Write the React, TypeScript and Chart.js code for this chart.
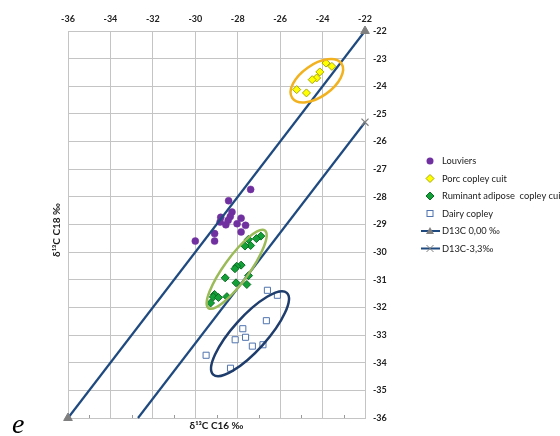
import React, { useEffect, useRef } from "react";
import { Chart, registerables } from "chart.js";

Chart.register(...registerables);

// ---- Data ----
const louviersX = [-27.39, -28.43, -28.27, -28.35, -28.8, -27.84, -28.83, -28.45, -28.56, -28.03, -27.63, -27.84, -29.09, -30.0, -29.09];
const louviersY = [-27.73, -28.14, -28.55, -28.71, -28.74, -28.77, -28.91, -28.85, -29.01, -28.97, -29.03, -29.27, -29.33, -29.6, -29.6];

const porcX = [-23.84, -23.56, -24.13, -24.28, -24.49, -25.22, -24.76];
const porcY = [-23.16, -23.28, -23.48, -23.7, -23.76, -24.12, -24.24];

const ruminantX = [-26.91, -27.12, -27.5, -27.39, -27.66, -27.84, -28.05, -28.13, -28.59, -27.49, -28.08, -27.57, -29.09, -29.15, -28.91, -28.51, -29.28];
const ruminantY = [-29.42, -29.51, -29.54, -29.76, -29.78, -30.47, -30.51, -30.6, -30.93, -30.85, -31.11, -31.17, -31.53, -31.62, -31.64, -31.61, -31.84];

const dairyX = [-26.6, -26.13, -26.65, -27.76, -27.63, -28.12, -27.31, -26.81, -29.49, -28.34];
const dairyY = [-31.38, -31.56, -32.48, -32.77, -33.08, -33.17, -33.4, -33.35, -33.73, -34.2];

const line0X = [-36, -22];
const line0Y = [-36, -22];
const line33X = [-32.7, -22];
const line33Y = [-36, -25.3];

const axisMin = -36;
const axisMax = -22;
const minorTicks = [-35, -33, -31, -29, -27, -25, -23];

const seriesNames = [
  "Louviers",
  "Porc copley cuit",
  "Ruminant adipose  copley cuit",
  "Dairy copley",
  "D13C 0,00 \u2030",
  "D13C-3,3\u2030",
];

const xTitle = "\u03B4\u00B9\u00B3C C16 \u2030";
const yTitle = "\u03B4\u00B9\u00B3C C18 \u2030";

// ---- Styling ----
const FONT = "Lato, 'Open Sans', sans-serif";
const NAVY = "#1F4A7F";
const GRID = "#C4C4C4";
const PURPLE = "#7030A0";
const YELLOW = "#FFFF00";
const YELLOW_EDGE = "#A8A800";
const GREEN = "#13A038";
const GREEN_EDGE = "#0B6B22";
const DAIRY_EDGE = "#4F73AE";
const GREY = "#7F7F7F";

// annotation ellipses: centre in data units, semi-axes in px
const ellipses = [
  { cx: -24.27, cy: -23.8, rx: 30, ry: 16, angle: -35, color: "#F2B21F" },
  { cx: -28.05, cy: -30.62, rx: 48, ry: 12.5, angle: -54, color: "#9BBB59" },
  { cx: -27.42, cy: -32.95, rx: 55, ry: 17, angle: -48, color: "#1F3D6C" },
];

const pts = (xs: number[], ys: number[]) => xs.map((x, i) => ({ x, y: ys[i] }));

function drawMarker(ctx: CanvasRenderingContext2D, kind: string, x: number, y: number) {
  ctx.save();
  ctx.lineWidth = 1;
  if (kind === "circle") {
    ctx.beginPath();
    ctx.arc(x, y, 3.5, 0, Math.PI * 2);
    ctx.fillStyle = PURPLE;
    ctx.fill();
  } else if (kind === "diamondY" || kind === "diamondG") {
    ctx.beginPath();
    ctx.moveTo(x, y - 4);
    ctx.lineTo(x + 4, y);
    ctx.lineTo(x, y + 4);
    ctx.lineTo(x - 4, y);
    ctx.closePath();
    ctx.fillStyle = kind === "diamondY" ? YELLOW : GREEN;
    ctx.strokeStyle = kind === "diamondY" ? YELLOW_EDGE : GREEN_EDGE;
    ctx.fill();
    ctx.stroke();
  } else if (kind === "square") {
    ctx.fillStyle = "#fff";
    ctx.strokeStyle = DAIRY_EDGE;
    ctx.fillRect(x - 3, y - 3, 6, 6);
    ctx.strokeRect(x - 3, y - 3, 6, 6);
  } else if (kind === "lineTri" || kind === "lineCross") {
    ctx.strokeStyle = NAVY;
    ctx.lineWidth = 2;
    ctx.beginPath();
    ctx.moveTo(x - 9, y);
    ctx.lineTo(x + 10, y);
    ctx.stroke();
    if (kind === "lineTri") {
      ctx.beginPath();
      ctx.moveTo(x, y - 4);
      ctx.lineTo(x + 4, y + 3);
      ctx.lineTo(x - 4, y + 3);
      ctx.closePath();
      ctx.fillStyle = GREY;
      ctx.fill();
    } else {
      ctx.strokeStyle = GREY;
      ctx.lineWidth = 1;
      ctx.beginPath();
      ctx.moveTo(x - 3.5, y - 3.5);
      ctx.lineTo(x + 3.5, y + 3.5);
      ctx.moveTo(x + 3.5, y - 3.5);
      ctx.lineTo(x - 3.5, y + 3.5);
      ctx.stroke();
    }
  }
  ctx.restore();
}

const legendKinds = ["circle", "diamondY", "diamondG", "square", "lineTri", "lineCross"];

const overlayPlugin = {
  id: "overlay",
  afterDatasetsDraw(chart: any) {
    const ctx: CanvasRenderingContext2D = chart.ctx;
    const xs = chart.scales.x;
    const ys = chart.scales.y;
    ctx.save();
    for (const e of ellipses) {
      ctx.beginPath();
      ctx.ellipse(
        xs.getPixelForValue(e.cx),
        ys.getPixelForValue(e.cy),
        e.rx,
        e.ry,
        (e.angle * Math.PI) / 180,
        0,
        Math.PI * 2
      );
      ctx.strokeStyle = e.color;
      ctx.lineWidth = 2.5;
      ctx.stroke();
    }
    ctx.restore();
  },
  afterDraw(chart: any) {
    const ctx: CanvasRenderingContext2D = chart.ctx;
    const area = chart.chartArea;
    const xs = chart.scales.x;
    ctx.save();
    // minor ticks on bottom edge
    ctx.strokeStyle = "#9A9A9A";
    ctx.lineWidth = 1;
    for (const v of minorTicks) {
      const px = Math.round(xs.getPixelForValue(v)) + 0.5;
      ctx.beginPath();
      ctx.moveTo(px, area.bottom);
      ctx.lineTo(px, area.bottom - 3);
      ctx.stroke();
    }
    // axis titles
    ctx.fillStyle = "#1a1a1a";
    ctx.font = `bold 10px ${FONT}`;
    ctx.textAlign = "center";
    ctx.textBaseline = "middle";
    ctx.fillText(xTitle, (area.left + area.right) / 2, 426);
    ctx.save();
    ctx.translate(57, 230);
    ctx.rotate(-Math.PI / 2);
    ctx.fillText(yTitle, 0, 0);
    ctx.restore();
    // legend
    ctx.font = `9.3px ${FONT}`;
    ctx.textAlign = "left";
    ctx.fillStyle = "#1a1a1a";
    seriesNames.forEach((name, i) => {
      const y = 161 + i * 17.5;
      drawMarker(ctx, legendKinds[i], 430, y);
      ctx.fillText(name, 442, y);
    });
    // panel letter
    ctx.font = `italic 28px 'Liberation Serif', 'DejaVu Serif', serif`;
    ctx.textBaseline = "alphabetic";
    ctx.fillStyle = "#000";
    ctx.fillText("e", 12, 433);
    ctx.restore();
  },
};

export default function App() {
  const ref = useRef<HTMLCanvasElement | null>(null);

  useEffect(() => {
    if (!ref.current) return;
    const chart = new Chart(ref.current, {
      type: "scatter",
      data: {
        datasets: [
          {
            label: seriesNames[0],
            data: pts(louviersX, louviersY),
            pointStyle: "circle",
            pointRadius: 3.5,
            backgroundColor: PURPLE,
            borderColor: PURPLE,
            borderWidth: 0.5,
            order: 5,
            clip: false,
          },
          {
            label: seriesNames[1],
            data: pts(porcX, porcY),
            pointStyle: "rectRot",
            pointRadius: 4,
            backgroundColor: YELLOW,
            borderColor: YELLOW_EDGE,
            borderWidth: 1,
            order: 4,
            clip: false,
          },
          {
            label: seriesNames[2],
            data: pts(ruminantX, ruminantY),
            pointStyle: "rectRot",
            pointRadius: 4,
            backgroundColor: GREEN,
            borderColor: GREEN_EDGE,
            borderWidth: 1,
            order: 3,
            clip: false,
          },
          {
            label: seriesNames[3],
            data: pts(dairyX, dairyY),
            pointStyle: "rect",
            pointRadius: 4.3,
            backgroundColor: "#ffffff",
            borderColor: DAIRY_EDGE,
            borderWidth: 1,
            order: 2,
            clip: false,
          },
          {
            label: seriesNames[4],
            data: pts(line0X, line0Y),
            showLine: true,
            borderColor: NAVY,
            borderWidth: 2.2,
            pointStyle: "triangle",
            pointRadius: 5,
            pointBackgroundColor: GREY,
            pointBorderColor: GREY,
            pointBorderWidth: 1,
            order: 1,
            clip: false,
          },
          {
            label: seriesNames[5],
            data: pts(line33X, line33Y),
            showLine: true,
            borderColor: NAVY,
            borderWidth: 2.2,
            pointStyle: "crossRot",
            pointRadius: [0, 5],
            pointBackgroundColor: GREY,
            pointBorderColor: GREY,
            pointBorderWidth: 1.2,
            order: 0,
            clip: false,
          },
        ],
      },
      options: {
        responsive: false,
        animation: false,
        devicePixelRatio: 1,
        layout: { padding: { left: 68, top: 11, right: 165, bottom: 18 } },
        plugins: {
          legend: { display: false },
          tooltip: { enabled: false },
        },
        scales: {
          x: {
            type: "linear",
            position: "top",
            min: axisMin,
            max: axisMax,
            afterFit: (s: any) => {
              s.height = 20;
            },
            ticks: {
              stepSize: 2,
              padding: 7,
              color: "#222",
              font: { family: FONT, size: 9, weight: "bold" },
            },
            grid: { color: GRID, lineWidth: 1, drawTicks: false },
            border: { display: true, color: GRID, width: 1 },
          },
          y: {
            type: "linear",
            position: "right",
            min: axisMin,
            max: axisMax,
            afterFit: (s: any) => {
              s.width = 30;
            },
            ticks: {
              stepSize: 1,
              padding: 8,
              color: "#222",
              font: { family: FONT, size: 9, weight: "bold" },
            },
            grid: { color: GRID, lineWidth: 1, drawTicks: false },
            border: { display: true, color: GRID, width: 1 },
          },
        },
      },
      plugins: [overlayPlugin],
    });
    return () => chart.destroy();
  }, []);

  return (
    <canvas
      ref={ref}
      width={560}
      height={436}
      style={{ position: "fixed", left: 0, top: 0, width: 560, height: 436, background: "#fff" }}
    />
  );
}
